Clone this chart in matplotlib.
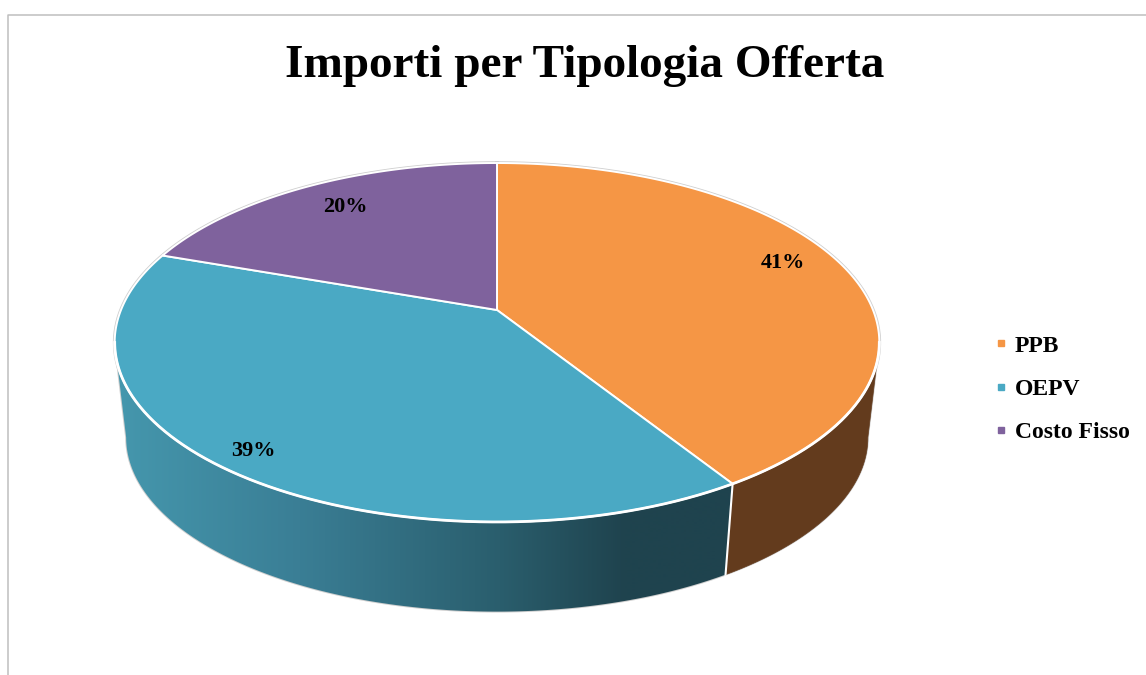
import numpy as np
import matplotlib
matplotlib.use("Agg")
import matplotlib.pyplot as plt
from matplotlib.lines import Line2D
from matplotlib.patches import Polygon
from matplotlib.colors import to_rgb

# ---- data ----
categories = ["PPB", "OEPV", "Costo Fisso"]
shares = [41.1, 39.3, 19.6]
title = "Importi per Tipologia Offerta"

# ---- style ----
top_colors = ["#F59645", "#4AA9C4", "#7F629D"]
side_colors = {0: "#633B1D", 2: "#4B3A5E"}
grad_x = [118, 300, 500, 625, 735]
grad_c = ["#4597AD", "#3A7E95", "#2A5E6D", "#1F434E", "#1F434E"]
label_pos = [(783, 263), (253, 451), (345, 207)]
W, H = 1146, 675
CX, CY = 497.0, 310.0
A, B, K = 376.0, 173.6, 0.181
S, CY2 = 0.97, 406.0


def project(theta, scale=1.0, cy=CY):
    """theta: radians clockwise from 12 o'clock on the disc."""
    u, v = np.sin(theta), np.cos(theta)
    d = 1 + K * v
    return CX + scale * A * u / d, cy - scale * B * v / d


fig = plt.figure(figsize=(W / 100, H / 100), dpi=100)
ax = fig.add_axes([0, 0, 1, 1])
ax.axis("off")

# chart frame
ax.add_line(Line2D([8, 8, W], [H, 14.5, 14.5], color="#BFBFBF", lw=1.1))

fracs = np.array(shares) / sum(shares)
edges = np.concatenate([[0], np.cumsum(fracs)]) * 2 * np.pi

# the wall is visible from one horizontal extreme of the disc to the other
TH_R = np.arccos(-K)
TH_L = 2 * np.pi - TH_R

# outer silhouette
th_all = np.linspace(0, 2 * np.pi, 721)
ax.plot(*project(th_all), color="#CFCFCF", lw=2.6, zorder=1)
th_front = np.linspace(TH_R, TH_L, 400)
bx, by = project(th_front, S, CY2)
tx0, ty0 = project(TH_R)
tx1, ty1 = project(TH_L)
ax.plot(np.r_[tx0, bx, tx1], np.r_[ty0, by, ty1], color="#CFCFCF", lw=1.4, zorder=1)

# side wall of every slice that faces the viewer
rgb_stops = np.array([to_rgb(c) for c in grad_c])
gx = np.arange(100, 760)
gradient = np.stack([np.interp(gx, grad_x, rgb_stops[:, k]) for k in range(3)], axis=-1)[None, :, :]
for i in range(len(categories)):
    lo, hi = max(edges[i], TH_R), min(edges[i + 1], TH_L)
    if hi <= lo:
        continue
    th = np.linspace(lo, hi, 300)
    x1, y1 = project(th)
    x2, y2 = project(th[::-1], S, CY2)
    pts = np.c_[np.r_[x1, x2], np.r_[y1, y2]]
    if i == 1:
        im = ax.imshow(gradient, extent=(gx[0], gx[-1], 650, 300), aspect="auto", zorder=2)
        im.set_clip_path(Polygon(pts, transform=ax.transData))
    else:
        ax.add_patch(Polygon(pts, facecolor=side_colors[i], edgecolor=side_colors[i], lw=0.5, zorder=2))

ax.set_xlim(0, W)
ax.set_ylim(H, 0)

# white seam on the wall between the two front slices
x1, y1 = project(edges[1])
x2, y2 = project(edges[1], S, CY2)
ax.plot([x1, x2], [y1, y2], color="white", lw=1.5, zorder=3)

# top face
for i, c in enumerate(top_colors):
    th = np.linspace(edges[i], edges[i + 1], 300)
    x, y = project(th)
    ax.fill(np.r_[CX, x], np.r_[CY, y], facecolor=c, edgecolor="white", lw=1.4,
            joinstyle="round", zorder=4)
# thicker white rim along the front of the top face
ax.plot(*project(th_front), color="white", lw=2.0, zorder=4.5)

# percent labels
for f, (lx, ly) in zip(fracs, label_pos):
    ax.text(lx, ly, f"{f * 100:.0f}%", ha="center", va="center", fontsize=16,
            family="Liberation Serif", fontweight="bold", color="black", zorder=5)

# title
ax.text(585, 66, title, ha="center", va="center", fontsize=34,
        family="Liberation Serif", fontweight="bold", color="black")

# legend
handles = [Line2D([], [], marker="s", ls="", ms=4.6, color=c) for c in top_colors]
ax.legend(handles, categories, loc="center left", bbox_to_anchor=(988 / W, 1 - 389 / H),
          frameon=False, prop={"family": "Liberation Serif", "weight": "bold", "size": 17},
          labelspacing=0.92, handletextpad=0.0, handlelength=1.13, borderpad=0, borderaxespad=0)

fig.savefig("out.png", dpi=100)
